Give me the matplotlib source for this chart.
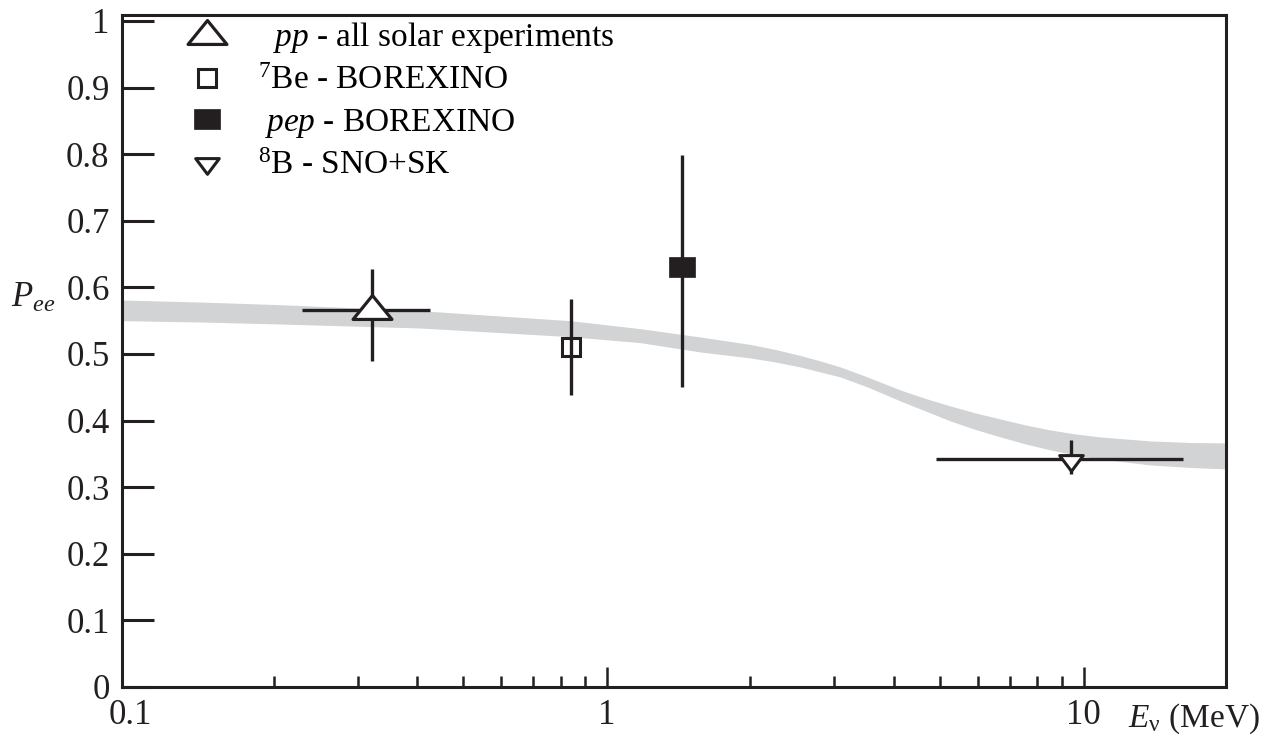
import matplotlib
matplotlib.use("Agg")
import matplotlib.pyplot as plt
import matplotlib.path as mpath
from matplotlib.lines import Line2D
from matplotlib.ticker import FixedLocator, LogLocator, NullLocator, FuncFormatter

plt.rcParams['font.family'] = ['Liberation Serif', 'DejaVu Serif']
plt.rcParams['mathtext.fontset'] = 'custom'
plt.rcParams['mathtext.rm'] = 'Liberation Serif'
plt.rcParams['mathtext.it'] = 'Liberation Serif:italic'

e_pp, e_pp_min, e_pp_max = 0.322, 0.229, 0.426
p_pp, p_pp_min, p_pp_max = 0.566, 0.489, 0.627

e_be = 0.84
p_be, p_be_min, p_be_max = 0.511, 0.438, 0.583

e_pep = 1.44
p_pep, p_pep_min, p_pep_max = 0.631, 0.451, 0.799

e_b8, e_b8_min, e_b8_max = 9.42, 4.91, 16.2
p_b8, p_b8_min, p_b8_max = 0.342, 0.320, 0.371

# Banda gris (prediccion MSW), bordes superior e inferior
band_e = [0.0962, 0.1403, 0.2065, 0.4062, 0.838, 1.176, 1.571, 2.001, 2.257, 2.547,
          2.806, 3.09, 3.521, 4.13, 4.661, 5.26, 5.934, 6.695, 7.554, 8.524,
          9.62, 10.85, 13.82, 16.77, 20.0]
band_hi = [0.581, 0.578, 0.574, 0.565, 0.550, 0.538, 0.5255, 0.5143, 0.5068, 0.4977,
           0.4895, 0.4805, 0.4655, 0.4459, 0.4332, 0.4219, 0.4114, 0.4024, 0.3934, 0.3859,
           0.3799, 0.3754, 0.3694, 0.3671, 0.3664]
band_lo = [0.550, 0.548, 0.545, 0.539, 0.526, 0.517, 0.503, 0.494, 0.488, 0.4805,
           0.473, 0.4655, 0.4505, 0.4294, 0.4144, 0.3994, 0.3866, 0.3754, 0.3649, 0.3559,
           0.3483, 0.3423, 0.3333, 0.3296, 0.3273]

y_ticks = [0, 0.1, 0.2, 0.3, 0.4, 0.5, 0.6, 0.7, 0.8, 0.9, 1]
x_ticks = [0.1, 1, 10]

labels = ['  $pp$ - all solar experiments', '$^{7}$Be - BOREXINO',
          ' $pep$ - BOREXINO', '$^{8}$B - SNO+SK']

ink = '#231f20'

tri_up = mpath.Path([(-1, -0.46), (1, -0.46), (0, 0.77), (-1, -0.46)], closed=True)
tri_down = mpath.Path([(-1, 0.33), (1, 0.33), (0, -1.0), (-1, 0.33)], closed=True)
rect = mpath.Path([(-1, -0.77), (1, -0.77), (1, 0.77), (-1, 0.77), (-1, -0.77)], closed=True)

fig = plt.figure(figsize=(12.78, 7.45), dpi=100)
ax = fig.add_axes([0.0955, 0.0779, 0.8642, 0.902])

ax.fill_between(band_e, band_lo, band_hi, color='#d1d3d4', linewidth=0, zorder=1)

# barras de error
ax.errorbar([e_pp], [p_pp], xerr=[[e_pp - e_pp_min], [e_pp_max - e_pp]],
            yerr=[[p_pp - p_pp_min], [p_pp_max - p_pp]], fmt='none', ecolor=ink,
            elinewidth=2.4, capsize=0, zorder=3)
ax.errorbar([e_be], [p_be], yerr=[[p_be - p_be_min], [p_be_max - p_be]], fmt='none',
            ecolor=ink, elinewidth=2.4, capsize=0, zorder=3)
ax.errorbar([e_pep], [p_pep], yerr=[[p_pep - p_pep_min], [p_pep_max - p_pep]], fmt='none',
            ecolor=ink, elinewidth=2.4, capsize=0, zorder=3)
ax.errorbar([e_b8], [p_b8], xerr=[[e_b8 - e_b8_min], [e_b8_max - e_b8]],
            yerr=[[p_b8 - p_b8_min], [p_b8_max - p_b8]], fmt='none', ecolor=ink,
            elinewidth=2.4, capsize=0, zorder=3)

# marcadores
st_pp = dict(marker=tri_up, markersize=28, markerfacecolor='white', markeredgecolor=ink, markeredgewidth=2.3, linestyle='none')
st_be = dict(marker='s', markersize=13, markerfacecolor='none', markeredgecolor=ink, markeredgewidth=2.2, linestyle='none')
st_pep = dict(marker=rect, markersize=18.5, markerfacecolor=ink, markeredgecolor=ink, markeredgewidth=0.5, linestyle='none')
st_b8 = dict(marker=tri_down, markersize=17, markerfacecolor='white', markeredgecolor=ink, markeredgewidth=2.2, linestyle='none')

ax.plot([e_pp], [p_pp], zorder=4, **st_pp)
ax.plot([e_be], [p_be], zorder=4, **st_be)
ax.plot([e_pep], [p_pep], zorder=4, **st_pep)
ax.plot([e_b8], [p_b8], zorder=4, **st_b8)

handles = [Line2D([], [], **st_pp), Line2D([], [], **st_be),
           Line2D([], [], **st_pep), Line2D([], [], **st_b8)]
ax.legend(handles, labels, loc='upper left', bbox_to_anchor=(0.0618, 0.992),
          frameon=False, fontsize=24, handlelength=1.0, handletextpad=1.03,
          borderpad=0, borderaxespad=0, labelspacing=0.31, numpoints=1)

ax.set_xscale('log')
ax.set_xlim(0.0962, 19.95)
ax.set_ylim(0, 1.009)

ax.xaxis.set_major_locator(FixedLocator(x_ticks))
ax.xaxis.set_major_formatter(FuncFormatter(lambda v, p: '%g' % v))
ax.xaxis.set_minor_locator(LogLocator(base=10, subs=[2, 3, 4, 5, 6, 7, 8, 9]))
ax.xaxis.set_minor_formatter(FuncFormatter(lambda v, p: ''))
ax.yaxis.set_major_locator(FixedLocator(y_ticks))
ax.yaxis.set_major_formatter(FuncFormatter(lambda v, p: '%g' % v))
ax.yaxis.set_minor_locator(NullLocator())

for s in ax.spines.values():
    s.set_linewidth(2.2)
    s.set_color(ink)

ax.tick_params(axis='y', which='major', direction='in', length=23, width=2.2,
               pad=9, labelsize=25, colors=ink, right=False)
ax.tick_params(axis='x', which='major', direction='in', length=14.5, width=1.8,
               pad=9, labelsize=25, colors=ink, top=False)
ax.tick_params(axis='x', which='minor', direction='in', length=8, width=1.8,
               colors=ink, top=False)
# sin marca en 0.1 (coincide casi con el eje)
ax.xaxis.get_major_ticks()[0].tick1line.set_visible(False)

ax.set_ylabel(r'$P_{ee}$', rotation=0, fontsize=25, color=ink, ha='center', va='center')
ax.yaxis.set_label_coords(-0.08, 0.579)
ax.set_xlabel(r'$E_{\mathrm{\nu}}$ (MeV)', fontsize=24, color=ink, ha='left', va='center')
ax.xaxis.set_label_coords(0.911, -0.048)

fig.savefig('out.png', dpi=100)
